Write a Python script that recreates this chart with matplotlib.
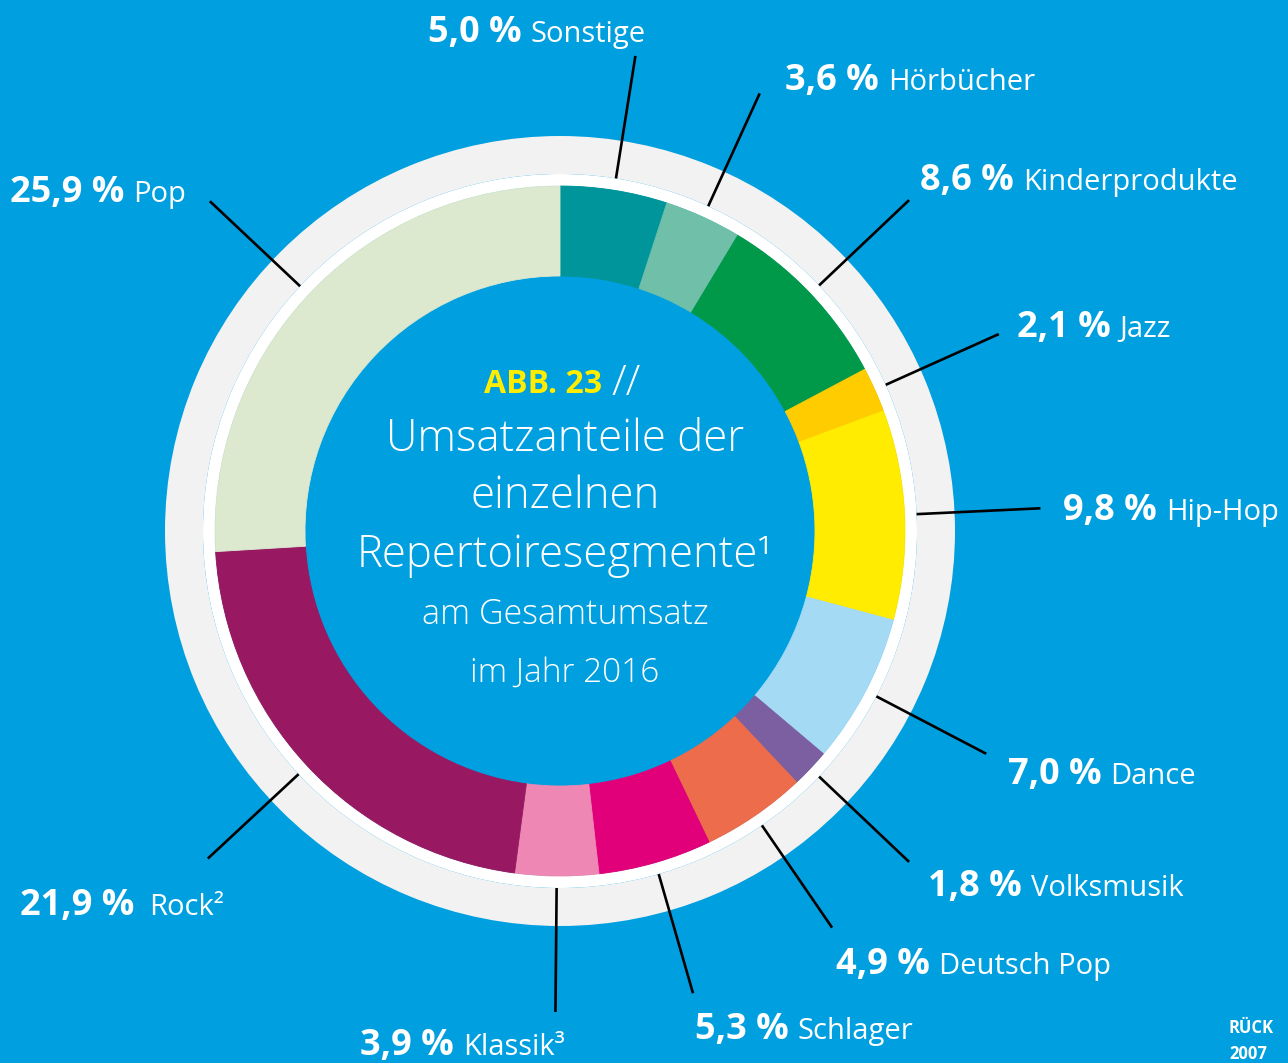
import matplotlib
matplotlib.use("Agg")
import matplotlib.pyplot as plt
from matplotlib.patches import Wedge
import numpy as np

# ---- data ----
categories = ["Sonstige", "Hörbücher", "Kinderprodukte", "Jazz", "Hip-Hop", "Dance",
              "Volksmusik", "Deutsch Pop", "Schlager", "Klassik³", "Rock²", "Pop"]
shares = [5.0, 3.6, 8.6, 2.1, 9.8, 7.0, 1.8, 4.9, 5.3, 3.9, 21.9, 25.9]
value_labels = ["5,0 %", "3,6 %", "8,6 %", "2,1 %", "9,8 %", "7,0 %",
                "1,8 %", "4,9 %", "5,3 %", "3,9 %", "21,9 %", "25,9 %"]
colors = ["#00959A", "#6FBFA9", "#00994A", "#FFCC00", "#FFEC00", "#A5DAF4",
          "#7C5FA0", "#EC6C4B", "#E2007A", "#EE87B4", "#981862", "#DCE9CF"]

# ---- layout (pixel coords) ----
W, H = 1288, 1063
BG = "#009FE0"
cx, cy = 560, 531
label_pos = [(428, 42), (785, 90), (920, 190), (1017, 337), (1063, 520), (1008, 784),
             (928, 896), (836, 974), (695, 1039), (360, 1055), (20, 915), (10, 202)]
label_gap = [9, 9, 9, 9, 9, 9, 9, 9, 9, 9, 15, 9]

FONT = "Open Sans"

fig = plt.figure(figsize=(W / 100, H / 100), dpi=100, facecolor=BG)
ax = fig.add_axes([0, 0, 1, 1])
ax.set_facecolor(BG)


def P(x, y):
    return x, H - y


# outer gray ring and white ring
ax.add_patch(Wedge(P(cx, cy), 395, 0, 360, width=38, facecolor="#F2F2F2", edgecolor="none"))
ax.add_patch(Wedge(P(cx, cy), 357, 0, 360, width=12, facecolor="white", edgecolor="none"))

wedges, _ = ax.pie(shares, colors=colors, startangle=90, counterclock=False,
                   radius=345, center=P(cx, cy),
                   wedgeprops=dict(width=90, linewidth=0.6))
for w, c in zip(wedges, colors):
    w.set_edgecolor(c)

ax.set_xlim(0, W)
ax.set_ylim(0, H)
ax.set_aspect("auto")
ax.axis("off")

# leader lines
total = sum(shares)
cum = 0.0
for v in shares:
    mid = 90 - 360 * (cum + v / 2) / total
    cum += v
    t = np.deg2rad(mid)
    x0, y0 = cx + 357 * np.cos(t), cy - 357 * np.sin(t)
    x1, y1 = cx + 481 * np.cos(t), cy - 481 * np.sin(t)
    ax.plot([x0, x1], [H - y0, H - y1], color="black", lw=1.9, solid_capstyle="butt")

# labels
fig.canvas.draw()
renderer = fig.canvas.get_renderer()
for name, val, (lx, ly), gap in zip(categories, value_labels, label_pos, label_gap):
    tb = ax.text(*P(lx, ly), val, fontsize=26, fontweight="bold", color="white",
                 family=FONT, ha="left", va="baseline")
    bb = tb.get_window_extent(renderer=renderer)
    ax.text(bb.x1 + gap, H - ly, name, fontsize=21, color="white",
            family=FONT, ha="left", va="baseline")

# center title
ax.text(*P(543, 393), "ABB. 23", fontsize=23, fontweight="bold", color="#FFED00",
        family=FONT, ha="center", va="baseline")
ax.text(*P(611, 395), "//", fontsize=31, fontweight="light", color="white", family=FONT,
        ha="left", va="baseline")
ax.text(*P(565, 451), "Umsatzanteile der", fontsize=31.5, fontweight="light", color="white",
        family=FONT, ha="center", va="baseline")
ax.text(*P(565, 508), "einzelnen", fontsize=31.5, fontweight="light", color="white",
        family=FONT, ha="center", va="baseline")
ax.text(*P(565, 567), "Repertoiresegmente¹", fontsize=31.5, fontweight="light", color="white",
        family=FONT, ha="center", va="baseline")
ax.text(*P(565, 624), "am Gesamtumsatz", fontsize=24.5, fontweight="light", color="white",
        family=FONT, ha="center", va="baseline")
ax.text(*P(565, 682), "im Jahr 2016", fontsize=24, fontweight="light", color="white",
        family=FONT, ha="center", va="baseline")

# source note
ax.text(*P(1229, 1033), "RÜCK", fontsize=12, fontweight="bold", color="white",
        family=FONT, ha="left", va="baseline")
ax.text(*P(1229, 1059), "2007", fontsize=12, fontweight="bold", color="white",
        family=FONT, ha="left", va="baseline")

fig.savefig("out.png", dpi=100, facecolor=BG)
